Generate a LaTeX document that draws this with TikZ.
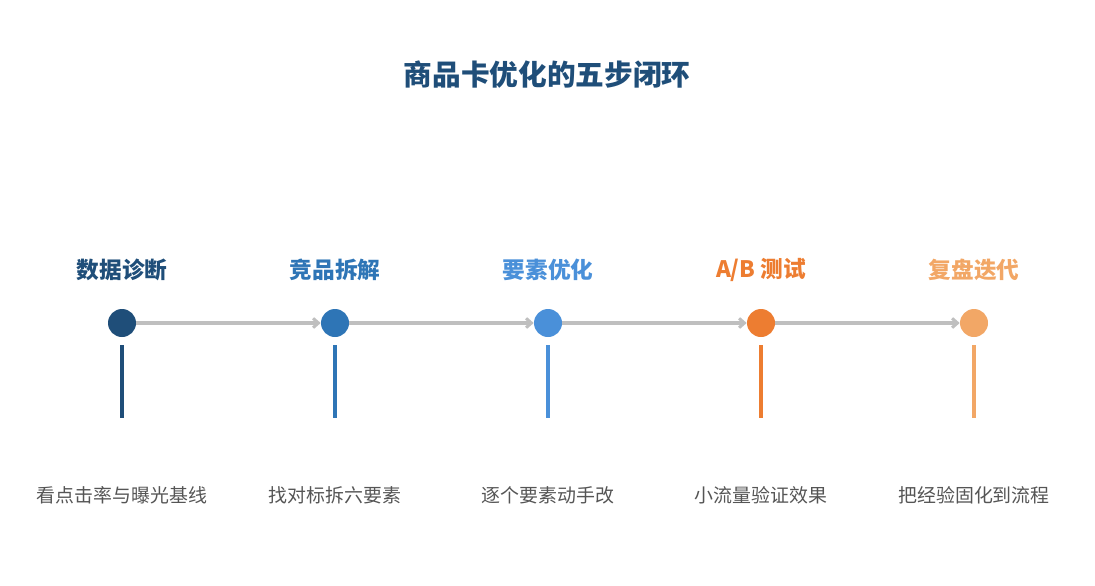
\documentclass[tikz,border=0pt]{standalone}
\usepackage{fontspec}
\newfontfamily\cjk{Noto Sans CJK SC}
\usetikzlibrary{arrows.meta}
\definecolor{c1}{HTML}{1F4E79}
\definecolor{c2}{HTML}{2E75B6}
\definecolor{c3}{HTML}{4A90D9}
\definecolor{c4}{HTML}{ED7D31}
\definecolor{c5}{HTML}{F2A766}
\definecolor{ln}{HTML}{BFBFBF}
\definecolor{tx}{HTML}{555555}
\begin{document}
\begin{tikzpicture}[x=0.75pt,y=-0.75pt,
 dot/.style={circle,fill=#1,minimum size=21pt,inner sep=0pt},
 ttl/.style={text=#1,font=\cjk\bfseries\fontsize{17}{20}\selectfont},
 dsc/.style={text=tx,font=\cjk\fontsize{14.2}{17}\selectfont},
 arr/.style={draw=ln,line width=2.3pt,-{Straight Barb[length=4pt,width=7pt]}},
 stem/.style={draw=#1,line width=3pt}]
\useasboundingbox (0,0) rectangle (1095,585);
\node[text=c1,font=\cjk\bfseries\fontsize{21.5}{25}\selectfont] (title) at (547,75) {商品卡优化的五步闭环};
\foreach \i/\x/\c/\t/\d in {1/122/c1/{数据诊断}/看点击率与曝光基线,2/335/c2/{竞品拆解}/找对标拆六要素,3/548/c3/{要素优化}/逐个要素动手改,4/761/c4/{A/B 测试}/小流量验证效果,5/974/c5/{复盘迭代}/把经验固化到流程}{
 \node[dot=\c] (d\i) at (\x,323) {};
 \node[ttl=\c] (t\i) at (\x,270) {\t};
 \node[dsc] (s\i) at (\x,495) {\d};
 \coordinate (a\i) at (\x,345);
 \coordinate (b\i) at (\x,418);
 \draw[stem=\c] (a\i) -- (b\i);
}
\foreach \i/\j in {1/2,2/3,3/4,4/5}{\draw[arr] (d\i) -- (d\j);}
\end{tikzpicture}
\end{document}
